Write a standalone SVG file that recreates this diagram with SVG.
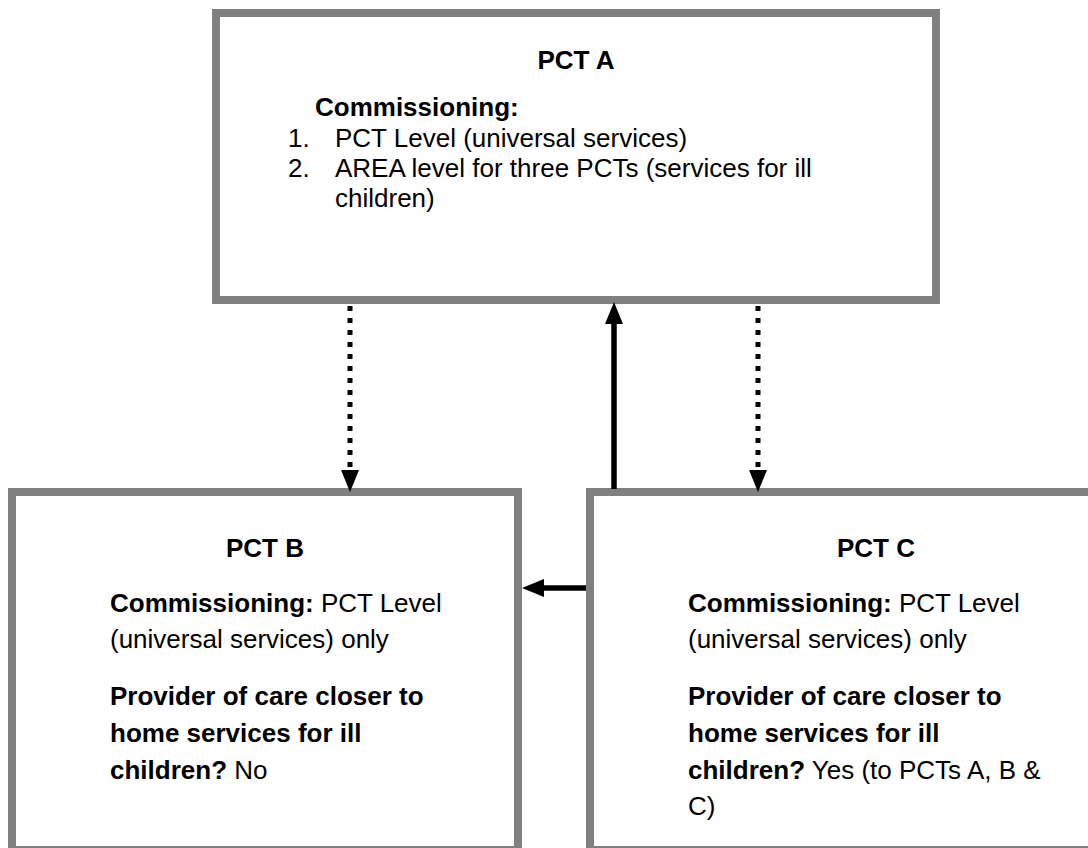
<svg xmlns="http://www.w3.org/2000/svg" width="1088" height="848" viewBox="0 0 1088 848">
<defs>
<style>
.box{fill:#ffffff;stroke:#808080;stroke-width:8}
text{font-family:"Liberation Sans",Arial,sans-serif;font-size:26px;fill:#000}
.b{font-weight:bold}
.t{font-weight:bold;text-anchor:middle}
.solid{stroke:#000;stroke-width:5.5;fill:none}
.dot{stroke:#000;stroke-width:5;fill:none;stroke-dasharray:5 7}
</style>
<marker id="ah" markerUnits="userSpaceOnUse" viewBox="0 0 22 18" refX="0" refY="9" markerWidth="22" markerHeight="18" orient="auto">
<path d="M0,0 L22,9 L0,18 Z" fill="#000"/>
</marker>
</defs>
<rect width="1088" height="848" fill="#fff"/>
<g id="pctA">
<rect class="box" x="216" y="13" width="720" height="287"/>
<text class="t" x="576" y="69">PCT A</text>
<text class="b" x="315" y="116">Commissioning:</text>
<text x="288" y="147">1.</text>
<text x="335" y="147">PCT Level (universal services)</text>
<text x="288" y="177">2.</text>
<text x="335" y="177">AREA level for three PCTs (services for ill</text>
<text x="335" y="207">children)</text>
</g>
<g id="pctB">
<rect class="box" x="12" y="492" width="506" height="358"/>
<text class="t" x="265" y="557">PCT B</text>
<text x="110" y="612"><tspan class="b">Commissioning:</tspan> PCT Level</text>
<text x="110" y="648">(universal services) only</text>
<text class="b" x="110" y="705">Provider of care closer to</text>
<text class="b" x="110" y="742">home services for ill</text>
<text x="110" y="779"><tspan class="b">children?</tspan> No</text>
</g>
<g id="pctC">
<rect class="box" x="590" y="492" width="572" height="358"/>
<text class="t" x="876" y="557">PCT C</text>
<text x="688" y="612"><tspan class="b">Commissioning:</tspan> PCT Level</text>
<text x="688" y="648">(universal services) only</text>
<text class="b" x="688" y="705">Provider of care closer to</text>
<text class="b" x="688" y="742">home services for ill</text>
<text x="688" y="779"><tspan class="b">children?</tspan> Yes (to PCTs A, B &amp;</text>
<text x="688" y="815">C)</text>
</g>
<g id="connectors">
<line class="dot" x1="350" y1="306" x2="350" y2="470" marker-end="url(#ah)"/>
<line class="dot" x1="758" y1="306" x2="758" y2="470" marker-end="url(#ah)"/>
<line class="solid" x1="614" y1="489" x2="614" y2="324" marker-end="url(#ah)"/>
<line class="solid" x1="586" y1="588" x2="544" y2="588" marker-end="url(#ah)"/>
</g>
</svg>
